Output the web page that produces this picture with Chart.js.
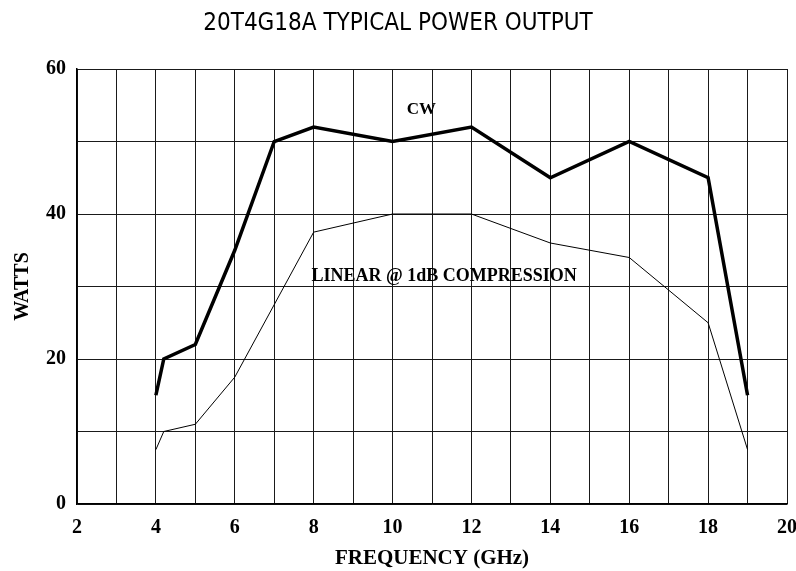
<!DOCTYPE html>
<html lang="en">
<head>
  <meta charset="UTF-8">
  <title>20T4G18A Typical Power Output</title>
  <script src="https://cdn.jsdelivr.net/npm/chart.js"></script>
  <style>
    body { margin: 0; background: #fff; }
    #wrap { width: 796px; height: 571px; }
  </style>
</head>
<body>
<div id="wrap"><canvas id="chart" width="796" height="571"></canvas></div>

<script>
  // CW curve (GHz, watts)
  const cwFreq  = [4, 4.2, 5, 6, 7, 8, 10, 12, 14, 16, 18, 19];
  const cwWatts = [15, 20, 22, 35, 50, 52, 50, 52, 45, 50, 45, 15];

  // linear @ 1dB compression curve
  const linFreq  = [4, 4.2, 5, 6, 7, 8, 10, 12, 14, 16, 18, 19];
  const linWatts = [7.5, 10, 11, 17.5, 27.5, 37.5, 40, 40, 36, 34, 25, 7.5];

  // text labels placed in data units
  const notes = [
    { text: "CW", x: 10.73, y: 54.4, size: 17 },
    { text: "LINEAR @ 1dB COMPRESSION", x: 11.31, y: 31.45, size: 18 }
  ];

  const toPoints = (xs, ys) => xs.map((x, i) => ({ x, y: ys[i] }));

  const serif = "'Liberation Serif', 'Times New Roman', serif";

  const notesPlugin = {
    id: "notes",
    afterDatasetsDraw(chart) {
      const { ctx, scales } = chart;
      ctx.save();
      ctx.fillStyle = "#000";
      ctx.textAlign = "center";
      ctx.textBaseline = "middle";
      notes.forEach(n => {
        ctx.font = `bold ${n.size}px ${serif}`;
        ctx.fillText(n.text, scales.x.getPixelForValue(n.x), scales.y.getPixelForValue(n.y));
      });
      ctx.restore();
    }
  };

  new Chart(document.getElementById("chart"), {
    type: "line",
    data: {
      datasets: [
        {
          label: "CW",
          data: toPoints(cwFreq, cwWatts),
          borderColor: "#000",
          borderWidth: 3.5,
          pointRadius: 0,
          tension: 0
        },
        {
          label: "LINEAR @ 1dB COMPRESSION",
          data: toPoints(linFreq, linWatts),
          borderColor: "#000",
          borderWidth: 1,
          pointRadius: 0,
          tension: 0
        }
      ]
    },
    options: {
      responsive: false,
      animation: false,
      layout: { padding: 0 },
      plugins: {
        legend: { display: false },
        tooltip: { enabled: false },
        title: {
          display: true,
          text: "20T4G18A TYPICAL POWER OUTPUT",
          color: "#000",
          font: { family: "'DejaVu Sans Condensed', 'Liberation Sans Narrow', sans-serif", size: 24, weight: "normal" },
          padding: { top: 9.6, bottom: 30.6 }
        }
      },
      scales: {
        x: {
          type: "linear",
          min: 2,
          max: 20,
          afterFit: s => { s.height = 67; s.paddingLeft = 0; s.paddingRight = 9; },
          grid: { color: "#1a1a1a", lineWidth: 1, drawTicks: false },
          border: { color: "#000", width: 1.5 },
          ticks: {
            stepSize: 1,
            padding: 12,
            color: "#000",
            autoSkip: false,
            maxRotation: 0,
            font: { family: serif, size: 20, weight: "bold" },
            callback: v => (v % 2 === 0 ? v : "")
          },
          title: {
            display: true,
            text: "FREQUENCY (GHz)",
            color: "#000",
            font: { family: serif, size: 21, weight: "bold" },
            padding: { top: 0, bottom: 0 }
          }
        },
        y: {
          min: 0,
          max: 60,
          afterFit: s => { s.width = 77; },
          grid: { color: "#1a1a1a", lineWidth: 1, drawTicks: false },
          border: { color: "#000", width: 1.5 },
          ticks: {
            stepSize: 10,
            padding: 11,
            color: "#000",
            autoSkip: false,
            font: { family: serif, size: 20, weight: "bold" },
            callback: v => (v % 20 === 0 ? v : "")
          },
          title: {
            display: true,
            text: "WATTS",
            color: "#000",
            font: { family: serif, size: 20, weight: "bold" },
            padding: { top: 11, bottom: 0 }
          }
        }
      }
    },
    plugins: [notesPlugin]
  });
</script>
</body>
</html>
